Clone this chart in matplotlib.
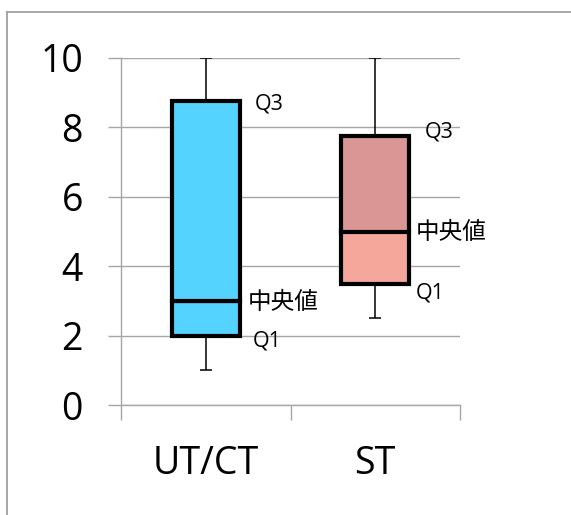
import matplotlib
matplotlib.use("Agg")
import matplotlib.pyplot as plt
from matplotlib.lines import Line2D

categories = ["UT/CT", "ST"]
mins = [1.0, 2.5]
q1s = [2.0, 3.5]
medians = [3.0, 5.0]
q3s = [8.75, 7.75]
maxs = [10.0, 10.0]
lower_colors = ["#55D3FF", "#F5A79B"]
upper_colors = ["#55D3FF", "#D99694"]
yticks = [0, 2, 4, 6, 8, 10]

# label offsets (points) for Q3, median, Q1 per category
q3_off = [(10.8, -2), (11.5, 3)]
med_off = [(5.8, -1), (5.0, -1)]
q1_off = [(9.4, -3.6), (5.0, -6.5)]

fig = plt.figure(figsize=(5.71, 5.15), dpi=100)
fig.patch.set_facecolor("white")

# outer frame (chart area border), partially cut by the image edge
W, H = 571, 515
fig.add_artist(Line2D([7 / W, 7 / W], [1 - 12 / H, -0.1], transform=fig.transFigure,
                      color="#a0a0a0", lw=1.3))
fig.add_artist(Line2D([7 / W, 1.1], [1 - 12 / H, 1 - 12 / H], transform=fig.transFigure,
                      color="#a0a0a0", lw=1.3))

ax = fig.add_axes([121 / W, 1 - 405 / H, 339 / W, 347 / H])
ax.set_xlim(0, 2)
ax.set_ylim(0, 10)

grid_c = "#a6a6a6"
ax.set_axisbelow(True)
ax.yaxis.grid(True, color=grid_c, lw=1.0)
for s in ["top", "right"]:
    ax.spines[s].set_visible(False)
for s in ["left", "bottom"]:
    ax.spines[s].set_color(grid_c)
    ax.spines[s].set_linewidth(1.0)

ax.set_yticks(yticks)
ax.set_yticklabels([str(v) for v in yticks])
ax.set_xticks([0, 1, 2])
ax.set_xticklabels([])
ax.set_xticks([0.5, 1.5], minor=True)
ax.set_xticklabels(categories, minor=True)
ax.tick_params(axis="y", direction="out", length=9.4, width=1.0, color=grid_c, pad=18,
               labelsize=27)
ax.tick_params(axis="x", which="major", direction="out", length=10.8, width=1.0, color=grid_c)
ax.tick_params(axis="x", which="minor", length=0, pad=29, labelsize=27)
for lab in ax.get_yticklabels() + ax.get_xticklabels(minor=True):
    lab.set_fontfamily(["Open Sans", "DejaVu Sans"])

xs = [0.5, 1.5]
bw = 0.4
cap = 0.035
for i, x in enumerate(xs):
    ax.vlines(x, q3s[i], maxs[i], color="black", lw=1.1, zorder=3)
    ax.vlines(x, mins[i], q1s[i], color="black", lw=1.1, zorder=3)
    ax.hlines([mins[i], maxs[i]], x - cap, x + cap, color="black", lw=1.1, zorder=3)
    ax.bar(x, medians[i] - q1s[i], bottom=q1s[i], width=bw, color=lower_colors[i],
           edgecolor="black", linewidth=3, zorder=4)
    ax.bar(x, q3s[i] - medians[i], bottom=medians[i], width=bw, color=upper_colors[i],
           edgecolor="black", linewidth=3, zorder=4)
    right = x + bw / 2
    fam = ["Open Sans", "Noto Sans CJK JP"]
    ax.annotate("Q3", (right, q3s[i]), xytext=q3_off[i], textcoords="offset points",
                ha="left", va="center", fontsize=15.5, family=fam)
    ax.annotate("中央値", (right, medians[i]), xytext=med_off[i], textcoords="offset points",
                ha="left", va="center", fontsize=17, family=["Noto Sans CJK JP"])
    ax.annotate("Q1", (right, q1s[i]), xytext=q1_off[i], textcoords="offset points",
                ha="left", va="center", fontsize=15.5, family=fam)

fig.savefig("out.png", dpi=100, facecolor="white")
